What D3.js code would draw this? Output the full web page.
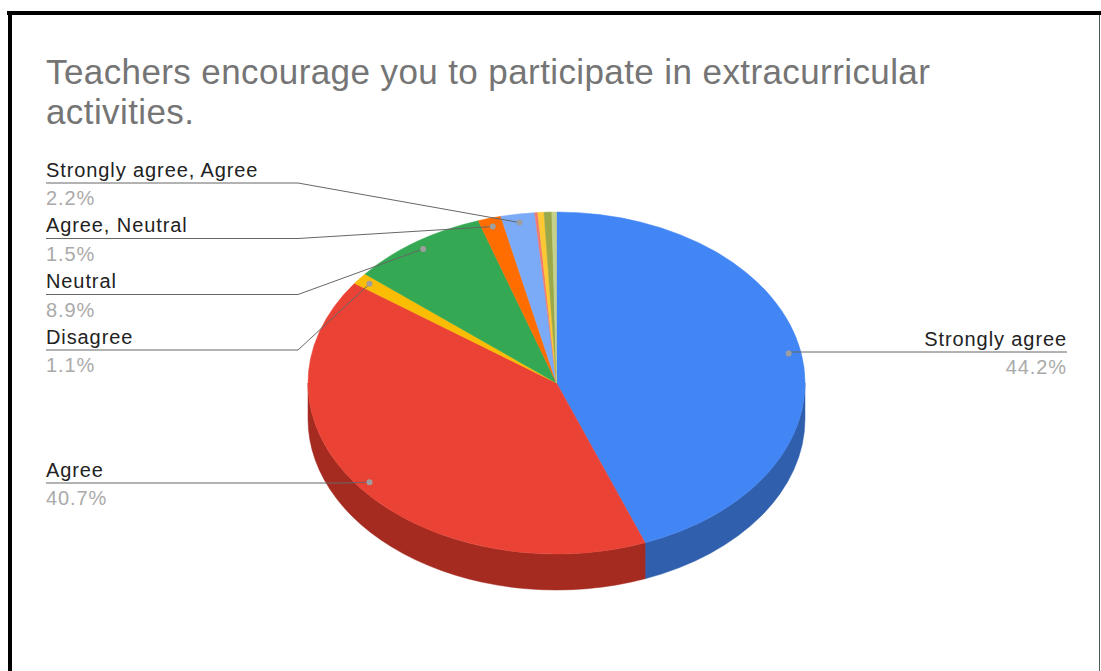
<!DOCTYPE html>
<html><head><meta charset="utf-8">
<script src="https://cdn.jsdelivr.net/npm/d3@7"></script>
<style>
html,body{margin:0;padding:0;background:#fff;}
svg{display:block;}
text{font-family:"Liberation Sans",Arial,sans-serif;}
</style></head>
<body>
<svg id="chart" width="1101" height="671"></svg>
<script>
const titleLines = ["Teachers encourage you to participate in extracurricular", "activities."];
const categories = ["Strongly agree", "Agree", "Disagree", "Neutral", "Agree, Neutral", "Strongly agree, Agree", "Other 1", "Other 2", "Other 3", "Other 4"];
const values = [44.2, 40.7, 1.1, 8.9, 1.5, 2.2, 0.2, 0.4, 0.5, 0.3];
const percentLabels = ["44.2%", "40.7%", "1.1%", "8.9%", "1.5%", "2.2%", "", "", "", ""];
const showLabel = [true, true, true, true, true, true, false, false, false, false];
const colors = ["#4285f4", "#ea4335", "#fbbc04", "#34a853", "#ff6d01", "#7baaf7", "#f07b72", "#fcc934", "#9aa84a", "#c5d08a"];
const sideColors = ["#2f5fad", "#a52a20", "#b08400", "#24763a", "#b34c00", "#5677ad", "#a85650", "#b08d24", "#6c7634", "#8a9261"];

const svg = d3.select("#chart");

// frame
svg.append("line").attr("x1", 7).attr("x2", 1101).attr("y1", 13).attr("y2", 13).attr("stroke", "#000").attr("stroke-width", 4);
svg.append("line").attr("x1", 10).attr("x2", 10).attr("y1", 11).attr("y2", 671).attr("stroke", "#000").attr("stroke-width", 4);
svg.append("line").attr("x1", 1099.5).attr("x2", 1099.5).attr("y1", 15).attr("y2", 671).attr("stroke", "#555").attr("stroke-width", 1);

// title
svg.append("g").selectAll("text").data(titleLines).join("text")
  .attr("x", 46).attr("y", (d, i) => 83.5 + i * 40.5)
  .attr("font-size", 35).attr("letter-spacing", 0.4).attr("fill", "#757575").text(d => d);

const cx = 556.5, cy = 383, rx = 248.5, ry = 171, depth = 36;
const pie = d3.pie().sort(null).value(d => d)(values);
const px = a => cx + rx * Math.sin(a);
const py = a => cy - ry * Math.cos(a);

const g = svg.append("g");
// side walls (front half: angles between PI/2 and 3PI/2)
pie.forEach((p, i) => {
  const a0 = Math.max(p.startAngle, Math.PI / 2), a1 = Math.min(p.endAngle, 3 * Math.PI / 2);
  if (a1 <= a0) return;
  const large = (a1 - a0) > Math.PI ? 1 : 0;
  const d = `M${px(a0)},${py(a0)} A${rx},${ry} 0 ${large} 1 ${px(a1)},${py(a1)} L${px(a1)},${py(a1) + depth} A${rx},${ry} 0 ${large} 0 ${px(a0)},${py(a0) + depth} Z`;
  g.append("path").attr("d", d).attr("fill", sideColors[i]).attr("stroke", sideColors[i]).attr("stroke-width", 0.5);
});
// top faces
pie.forEach((p, i) => {
  const a0 = p.startAngle, a1 = p.endAngle;
  const large = (a1 - a0) > Math.PI ? 1 : 0;
  const d = `M${cx},${cy} L${px(a0)},${py(a0)} A${rx},${ry} 0 ${large} 1 ${px(a1)},${py(a1)} Z`;
  g.append("path").attr("d", d).attr("fill", colors[i]).attr("stroke", colors[i]).attr("stroke-width", 0.5);
});

// labels
const labelPos = {
  "Strongly agree": {side: "right", y: 352},
  "Agree": {side: "left", y: 483, elbow: 345},
  "Disagree": {side: "left", y: 350, elbow: 298},
  "Neutral": {side: "left", y: 294.5, elbow: 298},
  "Agree, Neutral": {side: "left", y: 238.5, elbow: 298},
  "Strongly agree, Agree": {side: "left", y: 183, elbow: 298}
};
const fs = 20, ls = 0.9;
const lg = svg.append("g");
pie.forEach((p, i) => {
  if (!showLabel[i]) return;
  const name = categories[i];
  const pos = labelPos[name];
  const m = (p.startAngle + p.endAngle) / 2;
  const dx = cx + rx * 0.95 * Math.sin(m), dy = cy - ry * 0.95 * Math.cos(m);
  if (pos.side === "right") {
    lg.append("path").attr("d", `M${dx},${dy} L${dx},${pos.y} L1067,${pos.y}`).attr("fill", "none").attr("stroke", "#666").attr("stroke-width", 1);
    lg.append("text").attr("x", 1067).attr("y", pos.y - 6.5).attr("text-anchor", "end").attr("font-size", fs).attr("letter-spacing", ls).attr("fill", "#222").text(name);
    lg.append("text").attr("x", 1067).attr("y", pos.y + 22).attr("text-anchor", "end").attr("font-size", fs).attr("letter-spacing", ls).attr("fill", "#aaa").text(percentLabels[i]);
  } else {
    lg.append("path").attr("d", `M${dx},${dy} L${pos.elbow},${pos.y} L46,${pos.y}`).attr("fill", "none").attr("stroke", "#666").attr("stroke-width", 1);
    lg.append("text").attr("x", 46).attr("y", pos.y - 6.5).attr("font-size", fs).attr("letter-spacing", ls).attr("fill", "#222").text(name);
    lg.append("text").attr("x", 46).attr("y", pos.y + 22).attr("font-size", fs).attr("letter-spacing", ls).attr("fill", "#aaa").text(percentLabels[i]);
  }
  lg.append("circle").attr("cx", dx).attr("cy", dy).attr("r", 3).attr("fill", "#9e9e9e");
});
</script>
</body></html>
